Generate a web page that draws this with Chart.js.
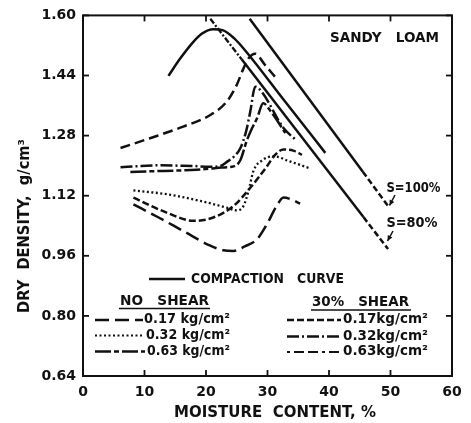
<!DOCTYPE html>
<html><head><meta charset="utf-8">
<script src="https://cdn.jsdelivr.net/npm/chart.js@4/dist/chart.umd.min.js"></script>
<style>html,body{margin:0;padding:0;background:#fff}</style>
</head><body>
<canvas id="c" width="471" height="423"></canvas>
<script>
// ---- tick values ----
const xTickValues = [0, 10, 20, 30, 40, 50, 60];
const yTickValues = [0.64, 0.80, 0.96, 1.12, 1.28, 1.44, 1.60];

// ---- compaction curve ----
const compactionX = [13.9, 15.8, 17.7, 19.3, 21.2, 22.8, 24.5, 26.1, 32.6, 39.4];
const compactionY = [1.439, 1.485, 1.525, 1.551, 1.563, 1.560, 1.540, 1.512, 1.376, 1.234];

// ---- saturation lines ----
const s100X = [27.1, 45.5];
const s100Y = [1.591, 1.184];
const s100TailX = [45.5, 49.8];
const s100TailY = [1.184, 1.088];
const s80TopX = [20.7, 25.8];
const s80TopY = [1.591, 1.483];
const s80X = [25.8, 45.6];
const s80Y = [1.483, 1.063];
const s80TailX = [45.6, 49.6];
const s80TailY = [1.063, 0.978];

// ---- no shear ----
const noShear017X = [8.2, 12.3, 16.3, 20.7, 22.8, 24.5, 26.3, 28.3, 29.9, 31.5, 32.6, 34.0, 35.3];
const noShear017Y = [1.097, 1.062, 1.026, 0.987, 0.975, 0.973, 0.985, 1.004, 1.044, 1.093, 1.115, 1.109, 1.099];
const noShear032X = [8.2, 13.6, 19.1, 23.4, 25.0, 26.1, 26.9, 27.7, 29.3, 31.0, 33.5, 36.7];
const noShear032Y = [1.134, 1.124, 1.106, 1.088, 1.081, 1.093, 1.132, 1.185, 1.216, 1.225, 1.212, 1.194];
const noShear063X = [7.7, 11.0, 15.3, 18.5, 20.7, 22.5, 24.5, 25.6, 26.6, 27.5, 28.3, 29.3, 30.5, 32.9];
const noShear063Y = [1.183, 1.185, 1.187, 1.189, 1.192, 1.195, 1.198, 1.215, 1.265, 1.300, 1.326, 1.366, 1.345, 1.287];

// ---- 30% shear ----
const shear017X = [8.2, 13.6, 18.0, 21.2, 24.5, 27.2, 29.9, 31.2, 32.6, 34.2, 35.6];
const shear017Y = [1.115, 1.075, 1.053, 1.062, 1.093, 1.141, 1.198, 1.228, 1.243, 1.240, 1.229];
const shear032X = [6.1, 9.5, 12.6, 15.5, 18.0, 20.5, 22.3, 23.4, 24.6, 25.6, 26.5, 27.2, 28.0, 29.0, 32.6, 34.5];
const shear032Y = [1.196, 1.199, 1.201, 1.200, 1.199, 1.197, 1.199, 1.210, 1.225, 1.247, 1.290, 1.344, 1.410, 1.398, 1.300, 1.270];
const shear063X = [6.1, 10.9, 16.3, 20.7, 23.4, 25.0, 26.1, 26.9, 28.0, 29.6, 31.2];
const shear063Y = [1.247, 1.273, 1.304, 1.335, 1.371, 1.415, 1.459, 1.485, 1.498, 1.468, 1.437];

// ---- styles ----
const DASH_NS017 = [14, 6];
const DASH_NS032 = [2, 2.5];
const DASH_NS063 = [16, 3, 5, 3];
const DASH_S017 = [7, 3];
const DASH_S032 = [12, 3, 2, 3];
const DASH_S063 = [10, 5];

function makeSet(label, xs, ys, dash, width, smooth) {
  return {
    label: label,
    data: xs.map((x, i) => ({ x: x, y: ys[i] })),
    showLine: true,
    borderColor: '#111',
    backgroundColor: '#111',
    borderWidth: width,
    borderDash: dash,
    borderCapStyle: 'butt',
    pointRadius: 0,
    fill: false,
    tension: 0,
    cubicInterpolationMode: smooth ? 'monotone' : 'default'
  };
}

const datasets = [
  makeSet('Compaction curve', compactionX, compactionY, [], 2.5, true),
  makeSet('S=100%', s100X, s100Y, [], 2.5, false),
  makeSet('S=100% tail', s100TailX, s100TailY, [6, 3], 2.5, false),
  makeSet('S=80% top', s80TopX, s80TopY, [6, 2, 2, 2], 2.3, false),
  makeSet('S=80%', s80X, s80Y, [], 2.5, false),
  makeSet('S=80% tail', s80TailX, s80TailY, [6, 3], 2.5, false),
  makeSet('No shear 0.17', noShear017X, noShear017Y, DASH_NS017, 2.5, true),
  makeSet('No shear 0.32', noShear032X, noShear032Y, DASH_NS032, 2.3, true),
  makeSet('No shear 0.63', noShear063X, noShear063Y, DASH_NS063, 2.5, true),
  makeSet('30% shear 0.17', shear017X, shear017Y, DASH_S017, 2.5, true),
  makeSet('30% shear 0.32', shear032X, shear032Y, DASH_S032, 2.5, true),
  makeSet('30% shear 0.63', shear063X, shear063Y, DASH_S063, 2.5, true)
];

const F14 = 'bold 14px "DejaVu Sans"';
const F15 = 'bold 15px "DejaVu Sans"';

function fitText(ctx, text, x, y, w, font, align) {
  ctx.save();
  ctx.font = font;
  ctx.textBaseline = 'middle';
  ctx.textAlign = 'left';
  const m = ctx.measureText(text).width;
  const s = w / m;
  const x0 = align === 'center' ? x - w / 2 : (align === 'right' ? x - w : x);
  ctx.translate(x0, y);
  ctx.scale(s, 1);
  ctx.fillText(text, 0, 0);
  ctx.restore();
}

function seg(ctx, x1, y1, x2, y2, dash, width) {
  ctx.save();
  ctx.beginPath();
  ctx.setLineDash(dash);
  ctx.lineWidth = width;
  ctx.lineCap = 'butt';
  ctx.moveTo(x1, y1);
  ctx.lineTo(x2, y2);
  ctx.stroke();
  ctx.restore();
}

function arrow(ctx, x1, y1, x2, y2) {
  seg(ctx, x1, y1, x2, y2, [], 1.5);
  const a = Math.atan2(y2 - y1, x2 - x1);
  ctx.save();
  ctx.beginPath();
  ctx.moveTo(x2, y2);
  ctx.lineTo(x2 - 6 * Math.cos(a - 0.45), y2 - 6 * Math.sin(a - 0.45));
  ctx.lineTo(x2 - 6 * Math.cos(a + 0.45), y2 - 6 * Math.sin(a + 0.45));
  ctx.closePath();
  ctx.fill();
  ctx.restore();
}

const decor = {
  id: 'decor',
  afterDraw(chart) {
    const ctx = chart.ctx;
    const a = chart.chartArea;
    const xs = chart.scales.x, ys = chart.scales.y;
    ctx.save();
    ctx.strokeStyle = '#111';
    ctx.fillStyle = '#111';
    // frame
    ctx.lineWidth = 2;
    ctx.setLineDash([]);
    ctx.strokeRect(a.left, a.top, a.right - a.left, a.bottom - a.top);
    // inward ticks
    const tl = 6;
    xTickValues.forEach(v => {
      const px = xs.getPixelForValue(v);
      seg(ctx, px, a.bottom, px, a.bottom - tl, [], 1.8);
      seg(ctx, px, a.top, px, a.top + tl, [], 1.8);
    });
    yTickValues.forEach(v => {
      const py = ys.getPixelForValue(v);
      seg(ctx, a.left, py, a.left + tl, py, [], 1.8);
      seg(ctx, a.right, py, a.right - tl, py, [], 1.8);
    });
    // axis titles
    fitText(ctx, 'MOISTURE  CONTENT, %', 275, 413, 202, F15, 'center');
    ctx.save();
    ctx.translate(25, 226);
    ctx.rotate(-Math.PI / 2);
    fitText(ctx, 'DRY  DENSITY,  g/cm³', 0, 0, 174, F15, 'center');
    ctx.restore();
    // panel label
    fitText(ctx, 'SANDY   LOAM', 330, 38.5, 109, F14, 'left');
    // saturation labels
    fitText(ctx, 'S=100%', 386.5, 188.5, 54, F14, 'left');
    fitText(ctx, 'S=80%', 386.5, 223, 51, F14, 'left');
    arrow(ctx, 395, 195, 389.5, 205.5);
    arrow(ctx, 393, 231, 387.5, 241);
    // legend: compaction
    seg(ctx, 149, 279, 185, 279, [], 2.5);
    fitText(ctx, 'COMPACTION   CURVE', 191, 279.5, 153, F14, 'left');
    // headings
    fitText(ctx, 'NO   SHEAR', 120, 301.5, 89, F14, 'left');
    seg(ctx, 119, 308.5, 210, 308.5, [], 1.6);
    fitText(ctx, '30%   SHEAR', 312, 302, 97, F14, 'left');
    seg(ctx, 311, 310, 411, 310, [], 1.6);
    // left legend rows
    seg(ctx, 95, 320, 143, 320, DASH_NS017, 2.5);
    fitText(ctx, '0.17 kg/cm²', 144, 319.5, 86, F14, 'left');
    seg(ctx, 95, 335.5, 143, 335.5, DASH_NS032, 2.2);
    fitText(ctx, '0.32 kg/cm²', 146, 335, 84, F14, 'left');
    seg(ctx, 95, 351.5, 145, 351.5, DASH_NS063, 2.5);
    fitText(ctx, '0.63 kg/cm²', 147, 351, 83, F14, 'left');
    // right legend rows
    seg(ctx, 287, 320, 341, 320, DASH_S017, 2.5);
    fitText(ctx, '0.17kg/cm²', 343, 319.5, 85, F14, 'left');
    seg(ctx, 287, 336.5, 341, 336.5, DASH_S032, 2.5);
    fitText(ctx, '0.32kg/cm²', 343, 336, 85, F14, 'left');
    seg(ctx, 287, 352, 341, 352, [3, 4, 10, 4, 10, 4], 2.2);
    fitText(ctx, '0.63kg/cm²', 343, 351.5, 85, F14, 'left');
    ctx.restore();
  }
};

new Chart(document.getElementById('c'), {
  type: 'scatter',
  data: { datasets: datasets },
  options: {
    responsive: false,
    animation: false,
    devicePixelRatio: 1,
    layout: { padding: { top: 13, right: 19, left: 0, bottom: 0 } },
    plugins: { legend: { display: false }, tooltip: { enabled: false } },
    scales: {
      x: {
        type: 'linear', min: 0, max: 60,
        grid: { display: false, drawTicks: false },
        border: { display: false },
        afterBuildTicks: s => { s.ticks = xTickValues.map(v => ({ value: v })); },
        afterFit: s => { s.height = 47; },
        ticks: { color: '#111', padding: 8, font: { family: 'DejaVu Sans', weight: 'bold', size: 14 },
                 callback: v => String(v), maxRotation: 0 }
      },
      y: {
        type: 'linear', min: 0.64, max: 1.60,
        grid: { display: false, drawTicks: false },
        border: { display: false },
        afterBuildTicks: s => { s.ticks = yTickValues.map(v => ({ value: v })); },
        afterFit: s => { s.width = 83; },
        ticks: { color: '#111', padding: 7, font: { family: 'DejaVu Sans', weight: 'bold', size: 14 },
                 callback: v => Number(v).toFixed(2) }
      }
    }
  },
  plugins: [decor]
});
</script>
</body></html>
